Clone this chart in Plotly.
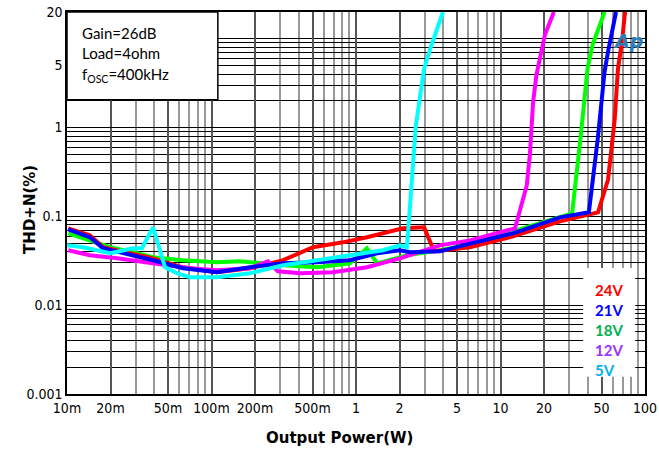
import plotly.graph_objects as go

# THD+N vs output power, one sweep per supply voltage
p_24v = [0.0102, 0.0144, 0.0178, 0.0286, 0.0394, 0.0635, 0.109, 0.185, 0.313, 0.504, 0.813, 1.19, 2.11, 2.96,
         3.47, 6.15, 12.2, 25.8, 47.3, 55.5, 61.7, 65.0, 69.3, 72.8]
thd_24v = [0.073, 0.0612, 0.0449, 0.0384, 0.0337, 0.0267, 0.0235, 0.0261, 0.0321, 0.0449, 0.0510, 0.0581, 0.0733,
           0.0752, 0.0404, 0.0449, 0.0596, 0.0879, 0.111, 0.260, 1.23, 4.60, 9.25, 20.1]

p_21v = [0.0102, 0.0144, 0.0178, 0.0286, 0.0394, 0.0635, 0.109, 0.185, 0.313, 0.537, 0.908, 1.40, 2.01, 2.37,
         3.81, 5.50, 12.2, 25.8, 40.9, 47.3, 52.5, 55.5, 63.0]
thd_21v = [0.0714, 0.0581, 0.0437, 0.0365, 0.0321, 0.0261, 0.0235, 0.0267, 0.0296, 0.0304, 0.0321, 0.0384, 0.0415,
           0.0394, 0.0404, 0.0472, 0.0644, 0.0975, 0.111, 0.792, 4.26, 7.14, 20.0]

p_18v = [0.0102, 0.0144, 0.0199, 0.0286, 0.0394, 0.0635, 0.109, 0.157, 0.185, 0.313, 0.537, 0.908, 1.19, 1.40,
         2.25, 3.81, 6.15, 12.2, 25.8, 31.3, 35.9, 40.0, 43.4, 52.5]
thd_18v = [0.0644, 0.0537, 0.0449, 0.0394, 0.0346, 0.0321, 0.0304, 0.0312, 0.0304, 0.0281, 0.0267, 0.0296, 0.0437,
           0.0296, 0.0365, 0.0415, 0.0484, 0.0678, 0.100, 0.108, 0.792, 4.60, 8.57, 20.0]

p_12v = [0.0102, 0.0144, 0.0222, 0.0336, 0.0492, 0.0710, 0.109, 0.185, 0.246, 0.288, 0.410, 0.693, 1.19, 2.01,
         3.81, 6.15, 12.6, 15.2, 16.0, 16.8, 17.7, 20.3, 23.4]
thd_12v = [0.0415, 0.0365, 0.0337, 0.0304, 0.0281, 0.0261, 0.0247, 0.0261, 0.0312, 0.0241, 0.0229, 0.0235, 0.0267,
           0.0337, 0.0472, 0.0537, 0.0733, 0.223, 0.511, 1.91, 3.84, 11.1, 20.0]

p_5v = [0.0100, 0.0129, 0.0199, 0.0286, 0.0330, 0.0394, 0.0477, 0.0577, 0.0710, 0.109, 0.185, 0.313, 0.537, 0.908,
        1.54, 2.01, 2.25, 2.37, 2.59, 2.96, 3.30, 4.00]
thd_5v = [0.0472, 0.0449, 0.0384, 0.0437, 0.0437, 0.0752, 0.0267, 0.0229, 0.0206, 0.0206, 0.0229, 0.0281, 0.0321,
          0.0365, 0.0415, 0.0472, 0.0449, 0.137, 1.03, 4.60, 8.13, 20.0]

# Axis ticks
x_tickvals = [0.01, 0.02, 0.05, 0.1, 0.2, 0.5, 1, 2, 5, 10, 20, 50, 100]
x_ticktext = ["10m", "20m", "50m", "100m", "200m", "500m", "1", "2", "5", "10", "20", "50", "100"]
y_tickvals = [0.001, 0.01, 0.1, 1, 5, 20]
y_ticktext = ["0.001", "0.01", "0.1", "1", "5", "20"]

# Legend entries: label and label colour
legend_labels = ["24V", "21V", "18V", "12V", "5V"]
label_colors = ["#FF0000", "#0000FF", "#00B050", "#9933FF", "#00B0F0"]

x_minor = [m * 10 ** e for e in range(-2, 2) for m in range(1, 10)] + [100]
y_minor = [m * 10 ** e for e in range(-3, 1) for m in range(1, 10)] + [10, 20]

series = [
    ("18V", p_18v, thd_18v, "#00FF00"),
    ("24V", p_24v, thd_24v, "#FF0000"),
    ("12V", p_12v, thd_12v, "#FF00FF"),
    ("21V", p_21v, thd_21v, "#0000FF"),
    ("5V", p_5v, thd_5v, "#00FFFF"),
]

fig = go.Figure()
for name, xs, ys, col in series:
    fig.add_trace(go.Scatter(x=xs, y=ys, mode="lines", name=name,
                             line=dict(color=col, width=4), showlegend=False))

tick_font = dict(family="Liberation Sans Narrow, DejaVu Sans Condensed, Arial", size=14, color="#000")

fig.update_layout(
    width=659, height=453,
    margin=dict(l=67, r=14, t=12, b=59, autoexpand=False),
    paper_bgcolor="white", plot_bgcolor="white",
    xaxis=dict(
        type="log", range=[-2, 2], automargin=False,
        tickvals=x_tickvals, ticktext=x_ticktext, tickfont=tick_font,
        showgrid=True, gridcolor="#555555", gridwidth=1.5,
        minor=dict(tickvals=x_minor, showgrid=True, gridcolor="#999999", gridwidth=1.5),
        showline=True, linecolor="black", linewidth=1.5, mirror=True,
        ticks="", zeroline=False,
    ),
    yaxis=dict(
        type="log", range=[-3, 1.30103], automargin=False,
        tickvals=y_tickvals, ticktext=y_ticktext, tickfont=tick_font,
        showgrid=True, gridcolor="black", gridwidth=1,
        minor=dict(tickvals=y_minor, showgrid=True, gridcolor="black", gridwidth=1),
        showline=True, linecolor="black", linewidth=1.5, mirror=True,
        ticks="", zeroline=False,
    ),
)

# Test-condition box in the upper-left corner
fig.add_shape(type="rect", xref="paper", yref="paper", x0=0, x1=0.261, y0=0.770, y1=1,
              fillcolor="white", line=dict(color="black", width=1.5), layer="above")
cond_font = dict(family="Lato, Carlito, Open Sans", size=15, color="black")
for txt, yy in [("Gain=26dB", 0.945), ("Load=4ohm", 0.892), ("f<sub>OSC</sub>=400kHz", 0.836)]:
    fig.add_annotation(text=txt, xref="paper", yref="paper", x=0.022, y=yy,
                       xanchor="left", yanchor="middle", showarrow=False, font=cond_font)

# Voltage legend in the lower-right corner
fig.add_shape(type="rect", xref="paper", yref="paper", x0=0.893, x1=0.983, y0=0.045, y1=0.330,
              fillcolor="white", line=dict(width=0), layer="above")
for i, (lab, col) in enumerate(zip(legend_labels, label_colors)):
    fig.add_annotation(text=f"<b>{lab}</b>", xref="paper", yref="paper", x=0.910, y=0.272 - i * 0.0525,
                       xanchor="left", yanchor="middle", showarrow=False,
                       font=dict(family="Lato, Carlito, Open Sans", size=15, color=col))

# Analyzer logo
fig.add_annotation(text="<b><i>Ap</i></b>", xref="paper", yref="paper", x=0.970, y=0.925,
                   xanchor="center", yanchor="middle", showarrow=False,
                   font=dict(family="DejaVu Sans", size=19, color="#2A7FB8"))

# Axis titles
fig.add_annotation(text="<b>Output Power(W)</b>", xref="paper", yref="paper", x=0.472, y=-0.115,
                   xanchor="center", yanchor="middle", showarrow=False,
                   font=dict(family="DejaVu Sans, Liberation Sans", size=15, color="black"))
fig.add_annotation(text="<b>THD+N(%)</b>", xref="paper", yref="paper", x=-0.064, y=0.482,
                   xanchor="center", yanchor="middle", showarrow=False, textangle=-90,
                   font=dict(family="DejaVu Sans, Liberation Sans", size=15, color="black"))

fig.write_html("out.html")
